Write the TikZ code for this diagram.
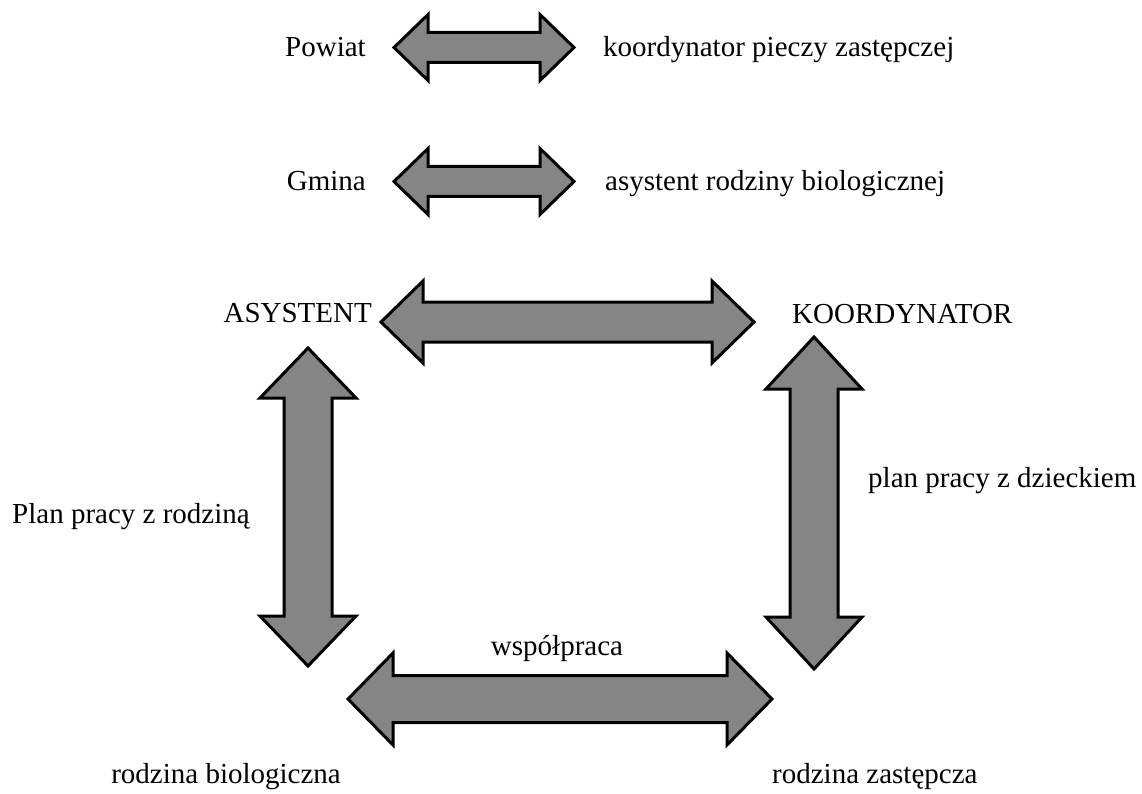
\documentclass[tikz,border=0pt]{standalone}
\usepackage{fontspec}
\setmainfont{Liberation Serif}
\tikzset{
  blockarrow/.style={draw=black, line width=3pt, line join=miter, fill=black!48},
  lbl/.style={inner sep=0pt, font=\fontsize{29}{34}\selectfont}
}
% horizontal double block arrow: #1 x-left, #2 x-right, #3 y-centre, #4 shaft half, #5 head half, #6 head length
\newcommand\hdblarrow[6]{%
  \draw[blockarrow] (#1,#3) -- (#1+#6,#3-#5) -- (#1+#6,#3-#4) -- (#2-#6,#3-#4) -- (#2-#6,#3-#5) -- (#2,#3)
    -- (#2-#6,#3+#5) -- (#2-#6,#3+#4) -- (#1+#6,#3+#4) -- (#1+#6,#3+#5) -- cycle;}
% vertical double block arrow: #1 y-top, #2 y-bottom, #3 x-centre, #4 shaft half, #5 head half, #6 head length
\newcommand\vdblarrow[6]{%
  \draw[blockarrow] (#3,#1) -- (#3+#5,#1+#6) -- (#3+#4,#1+#6) -- (#3+#4,#2-#6) -- (#3+#5,#2-#6) -- (#3,#2)
    -- (#3-#5,#2-#6) -- (#3-#4,#2-#6) -- (#3-#4,#1+#6) -- (#3-#5,#1+#6) -- cycle;}
\begin{document}
\begin{tikzpicture}[x=1pt, y=-1pt]
\useasboundingbox (0,0) rectangle (1142,794);
\fill[white] (0,0) rectangle (1142,794);

% labels
\node[lbl, anchor=base east] (powiat) at (366,57) {Powiat};
\node[lbl, anchor=base west] (koordpz) at (603,57) {koordynator pieczy zastępczej};
\node[lbl, anchor=base east] (gmina) at (366,191) {Gmina};
\node[lbl, anchor=base west] (asrb) at (605,191) {asystent rodziny biologicznej};
\node[lbl, anchor=base east] (asystent) at (372,322) {ASYSTENT};
\node[lbl, anchor=base west] (koord) at (792,323) {KOORDYNATOR};
\node[lbl, anchor=base west] (planrodz) at (12,523) {Plan pracy z rodziną};
\node[lbl, anchor=base west] (plandz) at (868,487) {plan pracy z dzieckiem};
\node[lbl, anchor=base] (wsp) at (557,655) {współpraca};
\node[lbl, anchor=base east] (rbio) at (341,783) {rodzina biologiczna};
\node[lbl, anchor=base west] (rzas) at (772,783) {rodzina zastępcza};

% block arrows
\hdblarrow{394}{574}{47.5}{15}{33}{34}
\hdblarrow{394}{574}{181.5}{15}{33}{34}
\hdblarrow{381}{754}{322}{20}{41}{42}
\vdblarrow{348}{666}{308}{24}{48}{50}
\vdblarrow{337}{669}{814}{24}{48}{52}
\hdblarrow{348}{772}{699}{23.5}{46}{45}
\end{tikzpicture}
\end{document}
